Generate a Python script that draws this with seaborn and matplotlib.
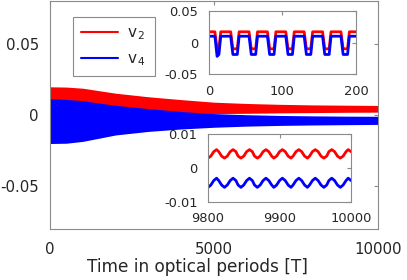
import matplotlib
matplotlib.use("Agg")
import matplotlib.pyplot as plt
from matplotlib.lines import Line2D
import numpy as np
import pandas as pd
import seaborn as sns

# envelope of the fast oscillations over the whole run
t_env = [0, 500, 1000, 2000, 3000, 4000, 5000, 6000, 7000, 8000, 9000, 10000]
v2_hi = [0.0198, 0.0196, 0.0188, 0.0153, 0.0128, 0.0108, 0.0090, 0.0081, 0.0075, 0.0071, 0.0069, 0.0067]
v2_lo = [0.0040, 0.0040, 0.0040, 0.0030, 0.0020, 0.0015, 0.0010, 0.0012, 0.0015, 0.0017, 0.0019, 0.0020]
v4_hi = [0.0114, 0.0110, 0.0100, 0.0068, 0.0045, 0.0025, 0.0010, 0.0002, -0.0003, -0.0006, -0.0008, -0.0009]
v4_lo = [-0.0200, -0.0198, -0.0185, -0.0140, -0.0115, -0.0098, -0.0086, -0.0078, -0.0073, -0.0070, -0.0068, -0.0066]

# start of the run (inset 1)
t_start = [0, 8, 11, 13.5, 16, 29.5, 32.5, 38.5, 41, 54.5, 57.5, 63.5, 66, 79.5, 82.5,
           88.5, 91, 104.5, 107.5, 113.5, 116, 129.5, 132.5, 138.5, 141, 154.5, 157.5,
           163.5, 166, 179.5, 182.5, 188.5, 191, 200]
v2_start = [0.017, 0.017, -0.010, -0.010, 0.017, 0.017, -0.010, -0.010, 0.017, 0.017,
            -0.010, -0.010, 0.017, 0.017, -0.010, -0.010, 0.017, 0.017, -0.010, -0.010,
            0.017, 0.017, -0.010, -0.010, 0.017, 0.017, -0.010, -0.010, 0.017, 0.017,
            -0.010, -0.010, 0.017, 0.017]
v4_start = [0.010, 0.010, -0.022, -0.019, 0.010, 0.010, -0.019, -0.019, 0.010, 0.010,
            -0.019, -0.019, 0.010, 0.010, -0.019, -0.019, 0.010, 0.010, -0.019, -0.019,
            0.010, 0.010, -0.019, -0.019, 0.010, 0.010, -0.019, -0.019, 0.010, 0.010,
            -0.019, -0.019, 0.010, 0.010]

# end of the run (inset 2)
t_end = [9800, 9804, 9808, 9812, 9815, 9819,
         9823, 9827, 9831, 9835, 9839, 9842,
         9846, 9850, 9854, 9858, 9862, 9865,
         9869, 9873, 9877, 9881, 9885, 9889,
         9892, 9896, 9900, 9904, 9908, 9912,
         9916, 9919, 9923, 9927, 9931, 9935,
         9939, 9942, 9946, 9950, 9954, 9958,
         9962, 9966, 9969, 9973, 9977, 9981,
         9985, 9989, 9993, 9996, 10000]
v2_end = [0.0029, 0.0035, 0.0048, 0.0054, 0.0048, 0.0035,
          0.0029, 0.0035, 0.0048, 0.0054, 0.0048, 0.0035,
          0.0029, 0.0035, 0.0048, 0.0054, 0.0048, 0.0035,
          0.0029, 0.0035, 0.0048, 0.0054, 0.0048, 0.0035,
          0.0029, 0.0035, 0.0048, 0.0054, 0.0048, 0.0035,
          0.0029, 0.0035, 0.0048, 0.0054, 0.0048, 0.0035,
          0.0029, 0.0035, 0.0048, 0.0054, 0.0048, 0.0035,
          0.0029, 0.0035, 0.0048, 0.0054, 0.0048, 0.0035,
          0.0029, 0.0035, 0.0048, 0.0054, 0.0048]
v4_end = [-0.0057, -0.0050, -0.0037, -0.0030, -0.0037, -0.0050,
          -0.0057, -0.0050, -0.0037, -0.0030, -0.0037, -0.0050,
          -0.0057, -0.0050, -0.0037, -0.0030, -0.0037, -0.0050,
          -0.0057, -0.0050, -0.0037, -0.0030, -0.0037, -0.0050,
          -0.0057, -0.0050, -0.0037, -0.0030, -0.0037, -0.0050,
          -0.0057, -0.0050, -0.0037, -0.0030, -0.0037, -0.0050,
          -0.0057, -0.0050, -0.0037, -0.0030, -0.0037, -0.0050,
          -0.0057, -0.0050, -0.0037, -0.0030, -0.0037, -0.0050,
          -0.0057, -0.0050, -0.0037, -0.0030, -0.0037]

sns.set_theme(style="white")
plt.rcParams["font.family"] = ["DejaVu Sans"]
plt.rcParams["mathtext.default"] = "regular"

txt = "#262626"
spine = "#8a8a8a"
red = "#ff0000"
blue = "#0000ff"


def style_axes(ax, size, pad):
    for s in ax.spines.values():
        s.set_color(spine)
        s.set_linewidth(0.8)
    ax.tick_params(direction="in", top=True, right=True, length=3, width=0.8,
                   color=spine, labelcolor=txt, labelsize=size, pad=pad)


fig = plt.figure(figsize=(4.07, 2.80), dpi=100)

ax = fig.add_axes([0.1229, 0.1821, 0.8059, 0.8143])
ax.fill_between(t_env, v2_lo, v2_hi, color=red, lw=0)
ax.fill_between(t_env, v4_lo, v4_hi, color=blue, lw=0)
ax.set_xlim(0, 10000)
ax.set_ylim(-0.08, 0.08)
ax.set_xticks([0, 5000, 10000])
ax.set_xticklabels(["0", "5000", "10000"])
ax.set_yticks([-0.05, 0, 0.05])
ax.set_yticklabels(["-0.05", "0", "0.05"])
style_axes(ax, 10.8, 8)
ax.tick_params(axis="x", pad=9)
ax.set_xlabel("Time in optical periods [T]", fontsize=12.2, color=txt, va="top")
ax.xaxis.set_label_coords(0.448, -0.128)

handles = [Line2D([], [], color=red, lw=1.5), Line2D([], [], color=blue, lw=1.5)]
leg = ax.legend(handles, ["v$_{\\,2}$", "v$_{\\,4}$"], loc="upper left",
                bbox_to_anchor=(0.07, 0.93), borderaxespad=0, fancybox=False,
                framealpha=1, edgecolor=spine, fontsize=11, handlelength=2.4,
                handletextpad=0.6, labelspacing=0.6, borderpad=0.55)
leg.get_frame().set_linewidth(0.8)
for t in leg.get_texts():
    t.set_color(txt)

# inset 1: start of the run
ax1 = fig.add_axes([0.5135, 0.7357, 0.3612, 0.2250])
df1 = pd.DataFrame({"t": t_start, "v2": v2_start, "v4": v4_start})
sns.lineplot(data=df1, x="t", y="v2", color=red, lw=2, ax=ax1)
sns.lineplot(data=df1, x="t", y="v4", color=blue, lw=2, ax=ax1)
ax1.set_xlim(0, 200)
ax1.set_ylim(-0.05, 0.05)
ax1.set_xticks([0, 100, 200])
ax1.set_yticks([-0.05, 0, 0.05])
ax1.set_yticklabels(["-0.05", "0", "0.05"])
ax1.set_xlabel("")
ax1.set_ylabel("")
style_axes(ax1, 9.4, 8)

# inset 2: end of the run
ax2 = fig.add_axes([0.5111, 0.2786, 0.3514, 0.2429])
df2 = pd.DataFrame({"t": t_end, "v2": v2_end, "v4": v4_end})
sns.lineplot(data=df2, x="t", y="v2", color=red, lw=2, ax=ax2)
sns.lineplot(data=df2, x="t", y="v4", color=blue, lw=2, ax=ax2)
ax2.set_xlim(9800, 10000)
ax2.set_ylim(-0.01, 0.01)
ax2.set_xticks([9800, 9900, 10000])
ax2.set_yticks([-0.01, 0, 0.01])
ax2.set_yticklabels(["-0.01", "0", "0.01"])
ax2.set_xlabel("")
ax2.set_ylabel("")
style_axes(ax2, 9.4, 7.5)

fig.savefig("out.png", dpi=100)
